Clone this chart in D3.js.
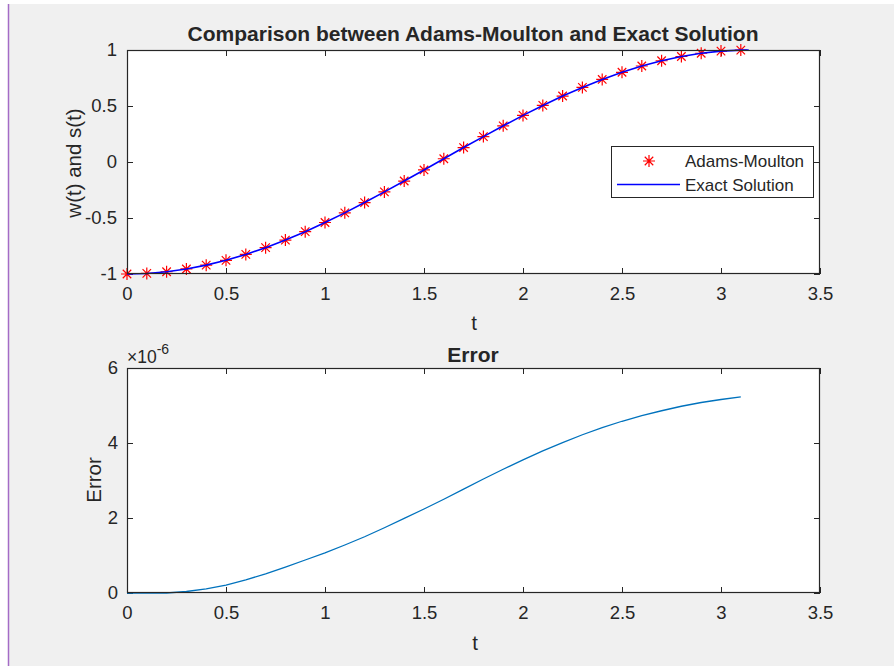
<!DOCTYPE html>
<html>
<head>
<meta charset="utf-8">
<script src="https://cdn.jsdelivr.net/npm/d3@7"></script>
<style>
  html, body { margin: 0; padding: 0; background: #ffffff; }
  svg { display: block; }
  text { font-family: "Liberation Sans", Arial, Helvetica, sans-serif; fill: #262626; }
</style>
</head>
<body>
<svg id="chart" width="894" height="666"></svg>
<script>
// ---- data ----
const tValues = [0, 0.1, 0.2, 0.3, 0.4, 0.5, 0.6, 0.7, 0.8, 0.9, 1.0, 1.1, 1.2, 1.3, 1.4, 1.5,
                 1.6, 1.7, 1.8, 1.9, 2.0, 2.1, 2.2, 2.3, 2.4, 2.5, 2.6, 2.7, 2.8, 2.9, 3.0, 3.1];
const adamsMoultonValues = [-1.000, -0.995, -0.980, -0.955, -0.921, -0.878, -0.825, -0.765, -0.697, -0.622,
                            -0.540, -0.454, -0.362, -0.267, -0.170, -0.071, 0.029, 0.129, 0.227, 0.323,
                            0.416, 0.505, 0.589, 0.666, 0.737, 0.801, 0.857, 0.904, 0.942, 0.971, 0.990, 0.999];
const exactT = [0, 0.1, 0.2, 0.3, 0.4, 0.5, 0.6, 0.7, 0.8, 0.9, 1.0, 1.1, 1.2, 1.3, 1.4, 1.5,
                1.6, 1.7, 1.8, 1.9, 2.0, 2.1, 2.2, 2.3, 2.4, 2.5, 2.6, 2.7, 2.8, 2.9, 3.0, 3.1, 3.14];
const exactValues = [-1.000, -0.995, -0.980, -0.955, -0.921, -0.878, -0.825, -0.765, -0.697, -0.622,
                     -0.540, -0.454, -0.362, -0.267, -0.170, -0.071, 0.029, 0.129, 0.227, 0.323,
                     0.416, 0.505, 0.589, 0.666, 0.737, 0.801, 0.857, 0.904, 0.942, 0.971, 0.990, 0.999, 1.000];
// error in units of 1e-6
const errorValues = [0, 0, 0, 0.04, 0.11, 0.21, 0.35, 0.51, 0.69, 0.88, 1.07, 1.28, 1.50, 1.74, 1.99, 2.24,
                     2.50, 2.77, 3.04, 3.30, 3.55, 3.79, 4.01, 4.22, 4.41, 4.58, 4.73, 4.86, 4.98, 5.08, 5.16, 5.23];

const xTicks = [0, 0.5, 1, 1.5, 2, 2.5, 3, 3.5];
const xTickLabels = ["0", "0.5", "1", "1.5", "2", "2.5", "3", "3.5"];
const y1Ticks = [-1, -0.5, 0, 0.5, 1];
const y1TickLabels = ["-1", "-0.5", "0", "0.5", "1"];
const y2Ticks = [0, 2, 4, 6];
const y2TickLabels = ["0", "2", "4", "6"];

const title1 = "Comparison between Adams-Moulton and Exact Solution";
const title2 = "Error";
const xLabel = "t";
const y1Label = "w(t) and s(t)";
const y2Label = "Error";
const legendLabels = ["Adams-Moulton", "Exact Solution"];

// ---- drawing ----
const svg = d3.select("#chart");
const W = 894, H = 666;
const AX = "#262626";
const TICK_FS = 18.5, LABEL_FS = 20.5, TITLE_FS = 21, LEG_FS = 17;

svg.append("rect").attr("x", 0).attr("y", 0).attr("width", W).attr("height", H).attr("fill", "#ffffff");
svg.append("rect").attr("x", 9).attr("y", 4).attr("width", W - 9).attr("height", H - 4).attr("fill", "#f0f0f0");
svg.append("line").attr("x1", 8.5).attr("x2", 8.5).attr("y1", 4).attr("y2", H)
  .attr("stroke", "#a46cc6").attr("stroke-width", 1.5);

const left = 127, right = 820;
const x = d3.scaleLinear().domain([0, 3.5]).range([left, right]);

function drawAxesFrame(g, y, top, bottom, yTicks, yLabels, yPad) {
  g.append("rect").attr("x", left).attr("y", top).attr("width", right - left).attr("height", bottom - top)
    .attr("fill", "#ffffff");
  const tl = 6;
  const xb = g.append("g").attr("transform", `translate(0,${bottom})`)
    .call(d3.axisBottom(x).tickValues(xTicks).tickFormat((d, i) => xTickLabels[i]).tickSizeInner(-tl).tickSizeOuter(0).tickPadding(13));
  const xt = g.append("g").attr("transform", `translate(0,${top})`)
    .call(d3.axisTop(x).tickValues(xTicks).tickFormat("").tickSizeInner(-tl).tickSizeOuter(0));
  const yl = g.append("g").attr("transform", `translate(${left},0)`)
    .call(d3.axisLeft(y).tickValues(yTicks).tickFormat((d, i) => yLabels[i]).tickSizeInner(-tl).tickSizeOuter(0).tickPadding(yPad));
  const yr = g.append("g").attr("transform", `translate(${right},0)`)
    .call(d3.axisRight(y).tickValues(yTicks).tickFormat("").tickSizeInner(-tl).tickSizeOuter(0));
  [xb, xt, yl, yr].forEach(a => {
    a.select(".domain").remove();
    a.selectAll(".tick line").attr("stroke", AX).attr("stroke-width", 1);
    a.selectAll(".tick text").attr("fill", AX).style("font-size", TICK_FS + "px")
      .style("font-family", '"Liberation Sans", Arial, sans-serif');
  });
}
function drawBox(g, top, bottom) {
  g.append("rect").attr("x", left + 0.5).attr("y", top + 0.5).attr("width", right - left - 1).attr("height", bottom - top - 1)
    .attr("fill", "none").attr("stroke", AX).attr("stroke-width", 1.2);
}

// ---- top subplot ----
const top1 = 50, bottom1 = 274;
const y1 = d3.scaleLinear().domain([-1, 1]).range([bottom1, top1]);
const g1 = svg.append("g");
drawAxesFrame(g1, y1, top1, bottom1, y1Ticks, y1TickLabels, 10);

const starR = 6;
function starPath(cx, cy) {
  const r = starR, d = r * Math.SQRT1_2;
  return `M${cx - r},${cy}L${cx + r},${cy}M${cx},${cy - r}L${cx},${cy + r}` +
         `M${cx - d},${cy - d}L${cx + d},${cy + d}M${cx - d},${cy + d}L${cx + d},${cy - d}`;
}
g1.append("g").selectAll("path").data(tValues).join("path")
  .attr("d", (d, i) => starPath(x(d), y1(adamsMoultonValues[i])))
  .attr("stroke", "#ff0000").attr("stroke-width", 1.2).attr("fill", "none");

const exactLine = d3.line().x(d => x(d[0])).y(d => y1(d[1]));
g1.append("path").datum(exactT.map((t, i) => [t, exactValues[i]]))
  .attr("d", exactLine).attr("fill", "none").attr("stroke", "#0000ff").attr("stroke-width", 1.6);

drawBox(g1, top1, bottom1);

g1.append("text").attr("x", 473).attr("y", 40.5).attr("text-anchor", "middle")
  .style("font-size", TITLE_FS + "px").style("font-weight", "bold").attr("fill", "#000").text(title1);
g1.append("text").attr("x", 474).attr("y", 329.5).attr("text-anchor", "middle")
  .style("font-size", LABEL_FS + "px").text(xLabel);
g1.append("text").attr("transform", "translate(81,163) rotate(-90)").attr("text-anchor", "middle")
  .style("font-size", LABEL_FS + "px").text(y1Label);

// legend
const lg = g1.append("g");
lg.append("rect").attr("x", 611.5).attr("y", 146.5).attr("width", 202).attr("height", 51)
  .attr("fill", "#ffffff").attr("stroke", AX).attr("stroke-width", 1);
lg.append("path").attr("d", starPath(649, 161)).attr("stroke", "#ff0000").attr("stroke-width", 1.2).attr("fill", "none");
lg.append("line").attr("x1", 617).attr("x2", 680).attr("y1", 184.5).attr("y2", 184.5)
  .attr("stroke", "#0000ff").attr("stroke-width", 1.6);
lg.selectAll("text.leg").data(legendLabels).join("text").attr("class", "leg")
  .attr("x", 685).attr("y", (d, i) => 166.5 + i * 24)
  .style("font-size", LEG_FS + "px").attr("fill", "#000").text(d => d);

// ---- bottom subplot ----
const top2 = 368, bottom2 = 593;
const y2 = d3.scaleLinear().domain([0, 6]).range([bottom2, top2]);
const g2 = svg.append("g");
drawAxesFrame(g2, y2, top2, bottom2, y2Ticks, y2TickLabels, 9);

const errLine = d3.line().x((d, i) => x(tValues[i])).y(d => y2(d));
g2.append("path").datum(errorValues).attr("d", errLine)
  .attr("fill", "none").attr("stroke", "#0072bd").attr("stroke-width", 1.3);

drawBox(g2, top2, bottom2);

g2.append("text").attr("x", 473).attr("y", 361.5).attr("text-anchor", "middle")
  .style("font-size", TITLE_FS + "px").style("font-weight", "bold").attr("fill", "#000").text(title2);
g2.append("text").attr("x", 475).attr("y", 649.5).attr("text-anchor", "middle")
  .style("font-size", LABEL_FS + "px").text(xLabel);
g2.append("text").attr("transform", "translate(101,480) rotate(-90)").attr("text-anchor", "middle")
  .style("font-size", LABEL_FS + "px").text(y2Label);

// exponent label
const ex = g2.append("text").attr("x", 127).attr("y", 363).style("font-size", "17.5px").attr("fill", AX);
ex.append("tspan").text("\u00d710");
ex.append("tspan").attr("dy", -9).style("font-size", "14px").text("-6");
</script>
</body>
</html>
